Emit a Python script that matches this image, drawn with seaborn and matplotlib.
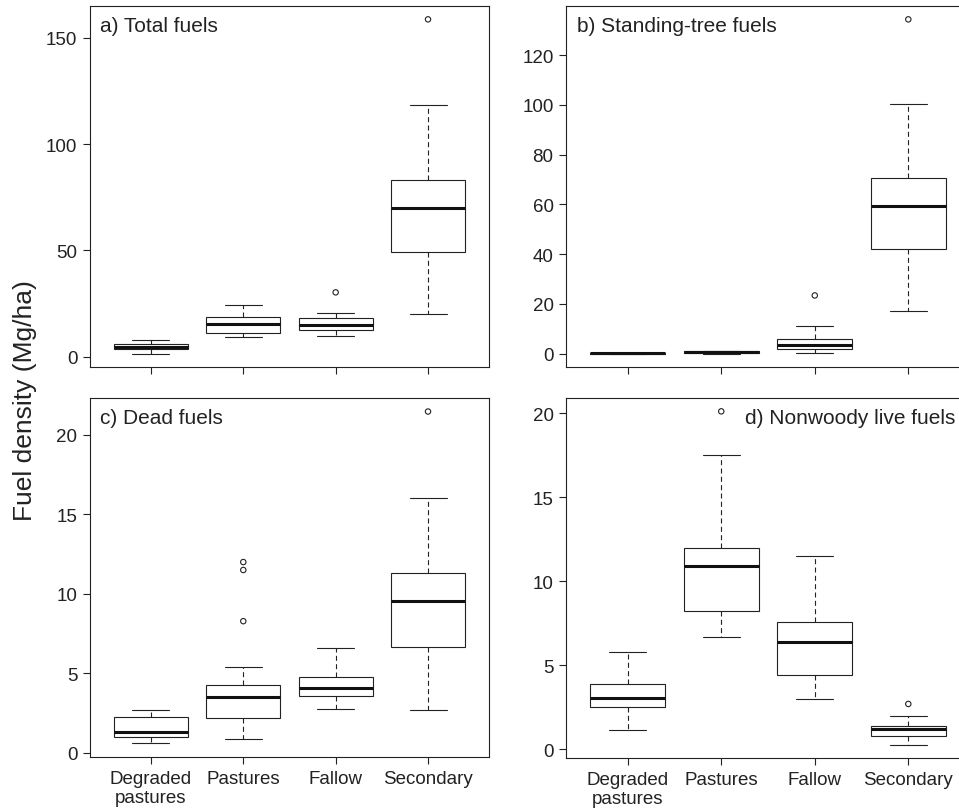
import numpy as np
import pandas as pd
import matplotlib
matplotlib.use("Agg")
import matplotlib.pyplot as plt
import seaborn as sns

# land-use categories (x axis)
cats = ["Degraded\npastures", "Pastures", "Fallow", "Secondary"]

# five-number summaries: whisker low, Q1, median, Q3, whisker high
total_lo = [1.5, 9.4, 9.7, 20.2]
total_q1 = [3.6, 11.4, 12.7, 49.2]
total_med = [4.4, 15.6, 15.1, 70.1]
total_q3 = [6.2, 18.6, 18.3, 83.3]
total_hi = [7.8, 24.2, 20.6, 118.3]
total_out = {"Fallow": [30.3], "Secondary": [158.6]}

stand_lo = [0.0, 0.0, 0.4, 17.1]
stand_q1 = [0.05, 0.3, 2.0, 41.9]
stand_med = [0.1, 0.5, 3.3, 59.5]
stand_q3 = [0.25, 0.9, 5.9, 70.6]
stand_hi = [0.4, 1.1, 11.1, 100.2]
stand_out = {"Fallow": [23.4], "Secondary": [134.4]}

dead_lo = [0.59, 0.88, 2.77, 2.69]
dead_q1 = [0.97, 2.18, 3.59, 6.68]
dead_med = [1.30, 3.51, 4.10, 9.52]
dead_q3 = [2.27, 4.29, 4.79, 11.30]
dead_hi = [2.69, 5.40, 6.60, 16.0]
dead_out = {"Pastures": [12.0, 11.5, 8.28], "Secondary": [21.47]}

live_lo = [1.17, 6.70, 2.99, 0.28]
live_q1 = [2.50, 8.23, 4.40, 0.77]
live_med = [3.03, 10.90, 6.38, 1.21]
live_q3 = [3.89, 11.99, 7.59, 1.39]
live_hi = [5.79, 17.5, 11.50, 1.98]
live_out = {"Pastures": [20.1], "Secondary": [2.70]}

panels = [
    ("a) Total fuels", [total_lo, total_q1, total_med, total_q3, total_hi], total_out, [0, 50, 100, 150]),
    ("b) Standing-tree fuels", [stand_lo, stand_q1, stand_med, stand_q3, stand_hi], stand_out, [0, 20, 40, 60, 80, 100, 120]),
    ("c) Dead fuels", [dead_lo, dead_q1, dead_med, dead_q3, dead_hi], dead_out, [0, 5, 10, 15, 20]),
    ("d) Nonwoody live fuels", [live_lo, live_q1, live_med, live_q3, live_hi], live_out, [0, 5, 10, 15, 20]),
]

sns.set_theme(style="ticks")
plt.rcParams["font.family"] = ["Liberation Sans", "DejaVu Sans"]
ink = "#222222"
plt.rcParams.update({
    "axes.edgecolor": ink, "axes.linewidth": 0.8,
    "xtick.color": ink, "ytick.color": ink,
    "xtick.major.size": 5, "ytick.major.size": 5,
    "xtick.major.width": 0.8, "ytick.major.width": 0.8,
    "xtick.major.pad": 4.5, "ytick.major.pad": 4,
    "xtick.labelsize": 13.5, "ytick.labelsize": 13.5,
})

fig = plt.figure(figsize=(9.59, 8.12), dpi=100)
boxes = [
    [0.0938, 0.5468, 0.4161, 0.4446],
    [0.5902, 0.5468, 0.4213, 0.4446],
    [0.0938, 0.0669, 0.4161, 0.4414],
    [0.5902, 0.0653, 0.4213, 0.4433],
]
title_x = [0.025, 0.026, 0.025, 0.443]

for i, (title, stats, outl, yt) in enumerate(panels):
    ax = fig.add_axes(boxes[i])
    rows = []
    for j, c in enumerate(cats):
        for s in stats:
            rows.append({"cat": c, "val": s[j]})
    df = pd.DataFrame(rows)
    sns.boxplot(data=df, x="cat", y="val", order=cats, whis=(0, 100),
                color="white", linecolor=ink, linewidth=0.8, width=0.8, ax=ax,
                medianprops=dict(linewidth=2.2, color="#111111"),
                whiskerprops=dict(linestyle=(0, (4.5, 3))))

    # outliers drawn as open circles
    ox, oy = [], []
    for c, vals in outl.items():
        for v in vals:
            ox.append(cats.index(c))
            oy.append(v)
    sns.scatterplot(x=ox, y=oy, ax=ax, marker="o", s=15, facecolor="none",
                    edgecolor=ink, linewidth=0.8, zorder=5)

    allv = [v for s in stats for v in s] + oy
    lo, hi = min(allv), max(allv)
    pad = 0.04 * (hi - lo)
    ax.set_ylim(lo - pad, hi + pad)
    ax.set_xlim(-0.66, 3.66)
    ax.set_yticks(yt)
    ax.set_xlabel("")
    ax.set_ylabel("")
    ax.set_xticks(range(len(cats)))
    if i < 2:
        ax.set_xticklabels([])
    else:
        ax.set_xticklabels(cats, linespacing=1.15)
    for sp in ax.spines.values():
        sp.set_visible(True)
    ax.text(title_x[i], 0.972, title, transform=ax.transAxes, ha="left", va="top",
            fontsize=15, color=ink)

fig.text(0.026, 0.507, "Fuel density (Mg/ha)", rotation=90, ha="center", va="center",
         fontsize=19, color=ink)

fig.savefig("out.png", dpi=100)
